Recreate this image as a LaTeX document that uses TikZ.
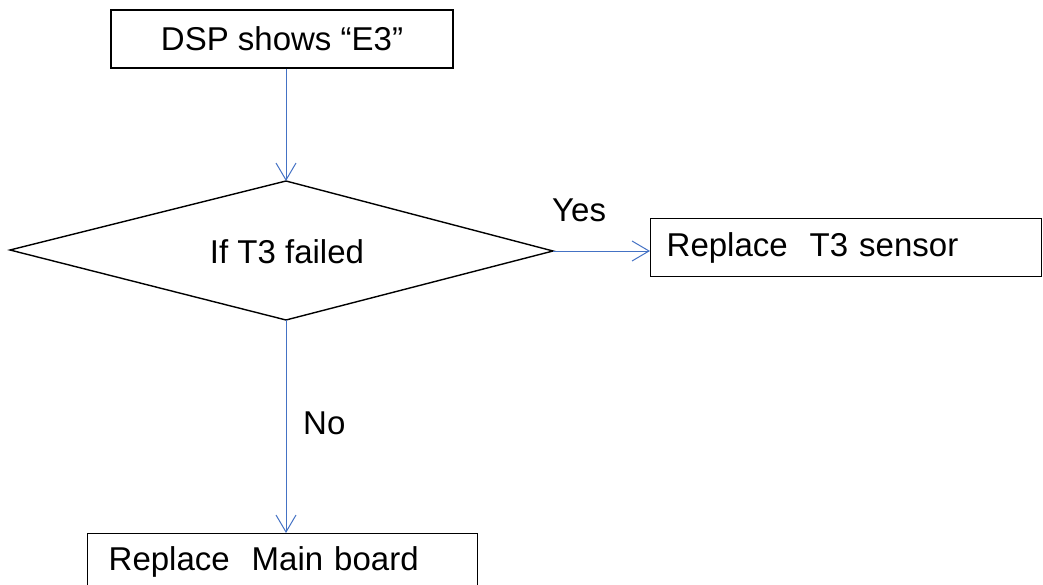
\documentclass[tikz,border=0pt]{standalone}
\usepackage{fontspec}
\setmainfont{Liberation Sans}
\usetikzlibrary{arrows.meta}
\definecolor{linkblue}{HTML}{4472C4}
\tikzset{
  box/.style={draw=black, line width=1.4pt, rectangle, inner sep=0pt, font=\fontsize{33}{39}\selectfont},
  lbl/.style={inner sep=0pt, font=\fontsize{33}{39}\selectfont},
  flow/.style={draw=linkblue, line width=1pt, -{Straight Barb[length=17pt,width=20pt,line width=1pt]}},
}
\begin{document}
\begin{tikzpicture}[x=1pt,y=1pt]
\useasboundingbox (0,0) rectangle (1043,-585);
% top box
\node[box, minimum width=342pt, minimum height=58pt] (top) at (282,-39) {DSP shows “E3”};
% diamond
\coordinate (dl) at (10,-250);
\coordinate (dt) at (286,-181);
\coordinate (dr) at (553,-251);
\coordinate (db) at (286,-320);
\draw[line width=1.4pt, line join=miter] (dl) -- (dt) -- (dr) -- (db) -- cycle;
\node[lbl] (cond) at (287,-252) {If T3 failed};
% right box
\node[box, anchor=north west, minimum width=391pt, minimum height=58pt, text width=359pt, inner xsep=16pt, align=left] (yesbox) at (650,-218) {Replace\ \ T3 sensor};
% bottom box
\node[box, anchor=north west, minimum width=390pt, minimum height=56pt, text width=348pt, inner xsep=21pt, align=left] (nobox) at (87,-533) {Replace\ \ Main board};
% connectors
\draw[flow] (top.south -| dt) -- (dt);
\draw[flow] (dr) -- (dr -| yesbox.west);
\draw[flow] (db) -- (db |- nobox.north);
% labels
\node[lbl, anchor=base west] (yes) at (552,-222) {Yes};
\node[lbl, anchor=base west] (no) at (303,-434) {No};
\end{tikzpicture}
\end{document}
